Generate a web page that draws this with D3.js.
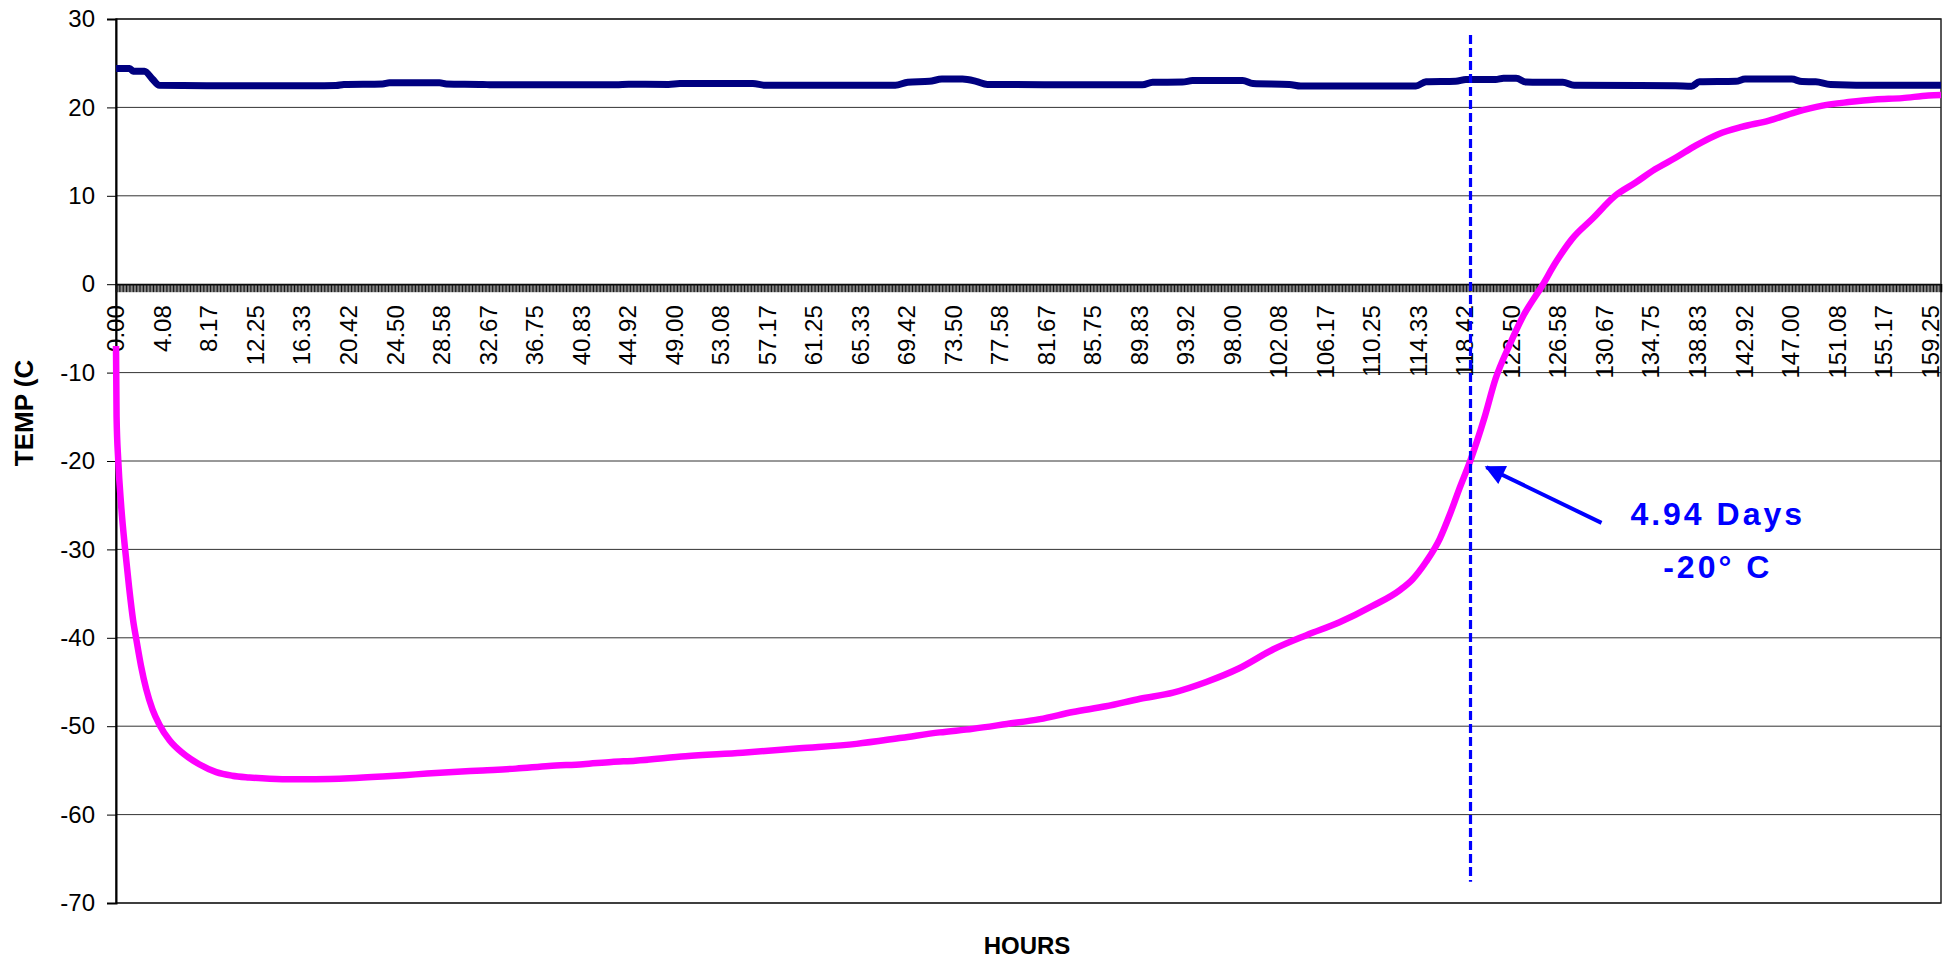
<!DOCTYPE html>
<html>
  <head>
    <meta charset="utf-8">
    <title>Temperature vs Hours</title>
    <script src="https://d3js.org/d3.v7.min.js"></script>
    <style>
      body { margin: 0; background: #fff; }
      svg { display: block; font-family: "Liberation Sans", Arial, sans-serif; }
      .axis text { font-size: 24px; fill: #000; }
      .axis-title { font-size: 24px; font-weight: bold; }
      .note { font-size: 32px; font-weight: bold; fill: #0000ff; letter-spacing: 3px; }
    </style>
  </head>
  <body>
    <script>
      // chamber (ambient) temperature
      var ambientHours = [0, 1.2, 1.5, 2.5, 3.2, 3.8, 8, 12, 16, 19.3, 20, 23.4, 24, 28.4, 29, 32.2, 33, 38,
        43.9, 45, 48.5, 49.5, 55.9, 57, 68.4, 69.5, 71.4, 72.5, 74.3, 75.5, 76.5, 85, 90.1, 91, 93.6, 94.5,
        98.9, 99.8, 103, 104, 114.1, 115, 117.6, 118.5, 121.1, 121.8, 122.9, 123.8, 127, 128, 136.9, 138.3,
        139, 142.2, 143, 147.1, 148, 149.2, 150.5, 155, 160.2];
      var ambientTemps = [24.4, 24.4, 24.1, 24.1, 23.2, 22.5, 22.45, 22.45, 22.45, 22.47, 22.6, 22.65, 22.78,
        22.78, 22.65, 22.6, 22.55, 22.55, 22.55, 22.63, 22.6, 22.7, 22.7, 22.5, 22.5, 22.85, 22.95, 23.2, 23.2,
        22.95, 22.6, 22.55, 22.55, 22.85, 22.86, 23.03, 23.04, 22.7, 22.6, 22.42, 22.42, 22.9, 22.95, 23.15,
        23.16, 23.3, 23.3, 22.86, 22.84, 22.5, 22.45, 22.4, 22.9, 22.95, 23.2, 23.2, 22.92, 22.9, 22.6, 22.5, 22.5];

      // product temperature
      var productHours = [0, 0.05, 0.2, 0.45, 0.8, 1.15, 1.5, 1.8, 2.2, 2.65, 3.2, 3.8, 4.7, 5.9, 7.3, 8.8,
        10.2, 11.7, 14.6, 17.5, 20.5, 23.4, 26.3, 29.2, 32.2, 35.1, 38, 41, 43.5, 45.6, 50, 55, 60, 65, 69,
        72.3, 75.2, 78.2, 81.1, 84, 86.9, 89.9, 92.8, 95.7, 98.6, 101.6, 104.5, 107.4, 110.3, 112.7, 113.8,
        115, 116.2, 117.1, 117.9, 118.9, 120.1, 121.1, 122.3, 123.4, 125.2, 126.4, 127.8, 129.6, 131.6, 133.4,
        135.1, 136.9, 138.7, 140.7, 142.7, 145.1, 147.4, 149.8, 152.1, 154.4, 156.8, 159.1, 160.2];
      var productTemps = [-7, -15, -20, -25, -30, -34.3, -38, -40.3, -43.2, -45.8, -48.1, -49.8, -51.6, -53.1,
        -54.3, -55.2, -55.6, -55.8, -56, -56, -55.9, -55.7, -55.45, -55.2, -55, -54.8, -54.5, -54.3, -54.05,
        -53.9, -53.4, -53, -52.5, -52, -51.3, -50.7, -50.3, -49.75, -49.2, -48.4, -47.75, -46.9, -46.2, -45,
        -43.45, -41.3, -39.7, -38.25, -36.4, -34.6, -33.4, -31.4, -28.8, -26.0, -23.2, -19.9, -15.2, -10.7,
        -6.95, -3.9, -0.15, 2.5, 5.1, 7.4, 10, 11.5, 13, 14.3, 15.7, 17, 17.8, 18.5, 19.45, 20.2, 20.6, 20.9,
        21.05, 21.35, 21.4];

      var hourLabels = ["0.00", "4.08", "8.17", "12.25", "16.33", "20.42", "24.50", "28.58", "32.67", "36.75",
        "40.83", "44.92", "49.00", "53.08", "57.17", "61.25", "65.33", "69.42", "73.50", "77.58", "81.67",
        "85.75", "89.83", "93.92", "98.00", "102.08", "106.17", "110.25", "114.33", "118.42", "122.50",
        "126.58", "130.67", "134.75", "138.83", "142.92", "147.00", "151.08", "155.17", "159.25"];
      var tempTicks = [-70, -60, -50, -40, -30, -20, -10, 0, 10, 20, 30];

      var markerHour = 118.9;
      var noteLines = ["4.94 Days", "-20° C"];

      var width = 1956, height = 961;
      var margin = {top: 19, right: 15, bottom: 58, left: 116};
      var innerW = width - margin.left - margin.right;
      var innerH = height - margin.top - margin.bottom;

      var x = d3.scaleLinear().domain([0, 160.2]).range([0, innerW]);
      var y = d3.scaleLinear().domain([-70, 30]).range([innerH, 0]);

      var svg = d3.select("body").append("svg")
        .attr("width", width)
        .attr("height", height);

      var g = svg.append("g")
        .attr("transform", "translate(" + margin.left + "," + margin.top + ")");

      // horizontal gridlines
      g.append("g")
        .selectAll("line")
        .data(tempTicks)
        .enter()
        .append("line")
        .attr("x1", 0)
        .attr("x2", innerW)
        .attr("y1", function(d) { return y(d); })
        .attr("y2", function(d) { return y(d); })
        .attr("stroke", "#333")
        .attr("stroke-width", 1);

      // plot border
      g.append("rect")
        .attr("width", innerW)
        .attr("height", innerH)
        .attr("fill", "none")
        .attr("stroke", "#222")
        .attr("stroke-width", 1.5);

      // y axis (plain hyphen for negatives, like the original)
      var yAxis = g.append("g")
        .attr("class", "axis")
        .call(d3.axisLeft(y)
          .tickValues(tempTicks)
          .tickSize(9)
          .tickPadding(12)
          .tickFormat(function(d) { return String(d); }));
      yAxis.select(".domain").attr("stroke-width", 2);

      // x axis sits on 0, with a dense row of small ticks
      var tickHours = d3.range(0, 160.2, 0.125);
      var xAxis = g.append("g")
        .attr("class", "axis")
        .attr("transform", "translate(0," + y(0) + ")")
        .call(d3.axisBottom(x).tickValues(tickHours).tickSize(8).tickFormat(""));
      xAxis.selectAll(".tick line").attr("stroke", "#111").attr("stroke-width", 1);
      xAxis.select(".domain").attr("stroke-width", 1.5);

      // hour labels, rotated, just under the zero line
      g.append("g")
        .attr("class", "axis")
        .selectAll("text")
        .data(hourLabels)
        .enter()
        .append("text")
        .attr("transform", function(d) { return "translate(" + x(+d) + "," + (y(0) + 21) + ") rotate(-90)"; })
        .attr("text-anchor", "end")
        .attr("dy", "0.35em")
        .text(function(d) { return d; });

      // series
      var line = d3.line()
        .x(function(d) { return x(d[0]); })
        .y(function(d) { return y(d[1]); })
        .curve(d3.curveMonotoneX);

      g.append("path")
        .datum(d3.zip(ambientHours, ambientTemps))
        .attr("fill", "none")
        .attr("stroke", "#000080")
        .attr("stroke-width", 7)
        .attr("stroke-linejoin", "round")
        .attr("d", line);

      g.append("path")
        .datum(d3.zip(productHours, productTemps))
        .attr("fill", "none")
        .attr("stroke", "#ff00ff")
        .attr("stroke-width", 6.5)
        .attr("stroke-linejoin", "round")
        .attr("d", line);

      // dashed marker at the -20 crossing
      g.append("line")
        .attr("x1", x(markerHour))
        .attr("x2", x(markerHour))
        .attr("y1", y(28.2))
        .attr("y2", y(-67.6))
        .attr("stroke", "#0000ff")
        .attr("stroke-width", 3.2)
        .attr("stroke-dasharray", "9,4");

      // arrow + note
      svg.append("defs").append("marker")
        .attr("id", "head")
        .attr("viewBox", "0 0 10 10")
        .attr("refX", 9)
        .attr("refY", 5)
        .attr("markerWidth", 6)
        .attr("markerHeight", 5)
        .attr("orient", "auto")
        .attr("markerUnits", "strokeWidth")
        .append("path")
        .attr("d", "M0,0 L10,5 L0,10 z")
        .attr("fill", "#0000ff");

      g.append("line")
        .attr("x1", x(130.4))
        .attr("y1", y(-27.0))
        .attr("x2", x(120.3))
        .attr("y2", y(-20.7))
        .attr("stroke", "#0000ff")
        .attr("stroke-width", 4)
        .attr("marker-end", "url(#head)");

      g.selectAll(".note")
        .data(noteLines)
        .enter()
        .append("text")
        .attr("class", "note")
        .attr("x", x(140.6))
        .attr("y", function(d, i) { return y(-27.2) + i * 53; })
        .attr("text-anchor", "middle")
        .text(function(d) { return d; });

      // axis titles
      svg.append("text")
        .attr("class", "axis-title")
        .attr("transform", "translate(32.5,413) rotate(-90)")
        .attr("text-anchor", "middle")
        .style("font-size", "26px")
        .text("TEMP (C");

      svg.append("text")
        .attr("class", "axis-title")
        .attr("x", 1027)
        .attr("y", 954)
        .attr("text-anchor", "middle")
        .text("HOURS");
    </script>
  </body>
</html>
